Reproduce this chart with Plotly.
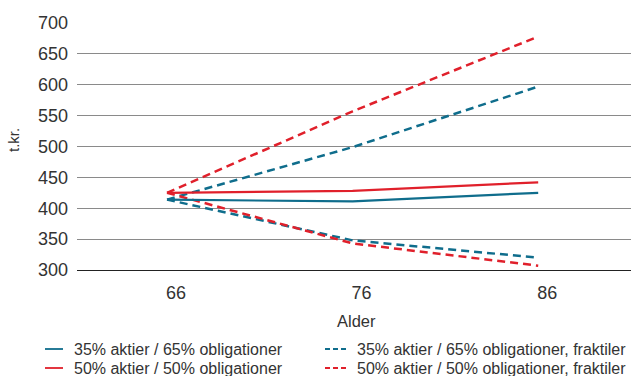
import plotly.graph_objects as go

ages = ["66", "76", "86"]
y_35_65 = [414, 411, 425]
y_50_50 = [425, 428, 442]
y_35_65_upper = [414, 499, 597]
y_35_65_lower = [414, 348, 320]
y_50_50_upper = [425, 557, 678]
y_50_50_lower = [425, 343, 307]
yticks = [300, 350, 400, 450, 500, 550, 600, 650, 700]

BLUE = "#0f6d8c"
RED = "#e0202b"
TXT = "#333333"
FONT = "Liberation Sans, Arial, sans-serif"

W, H = 631, 376
L, R, T, B = 77, 0, 23, 106
PW, PH = W - L - R, H - T - B

def px(x):
    return (x - L) / PW

def py(y):
    return (H - B - y) / PH

fig = go.Figure()
series = [
    (y_35_65_upper, BLUE, "8px,5px", 2.5),
    (y_35_65_lower, BLUE, "8px,5px", 2.5),
    (y_50_50_upper, RED, "8px,5px", 2.5),
    (y_50_50_lower, RED, "8px,5px", 2.5),
    (y_35_65, BLUE, "solid", 2.2),
    (y_50_50, RED, "solid", 2.2),
]
for ys, c, d, w in series:
    fig.add_trace(go.Scatter(x=ages, y=ys, mode="lines",
                             line=dict(color=c, dash=d, width=w),
                             showlegend=False, hoverinfo="skip"))

fig.update_layout(
    width=W, height=H,
    margin=dict(l=L, r=R, t=T, b=B),
    paper_bgcolor="white", plot_bgcolor="white",
    font=dict(family=FONT, color=TXT),
    showlegend=False,
)
fig.update_xaxes(type="category", range=[-0.485, 2.5], showgrid=False,
                 showline=True, linecolor="#222222", linewidth=1.2,
                 ticks="", tickfont=dict(size=18, color=TXT),
                 ticklabelshift=9, ticklabelstandoff=6)
fig.update_yaxes(range=[300, 700], tickvals=yticks, showgrid=True,
                 gridcolor="#8a8a8a", gridwidth=1, zeroline=False,
                 showline=False, ticks="", tickfont=dict(size=18, color=TXT),
                 ticklabelstandoff=8)

annots = [
    dict(text="t.kr.", x=px(13), y=py(140), textangle=-90, font=dict(size=15)),
    dict(text="Alder", x=px(356), y=py(321), font=dict(size=16.5)),
]
legend_items = [
    ("35% aktier / 65% obligationer", BLUE, "solid", 45, 63, 72, 349),
    ("50% aktier / 50% obligationer", RED, "solid", 45, 63, 72, 368),
    ("35% aktier / 65% obligationer, fraktiler", BLUE, "5px,3px", 325, 347, 355, 349),
    ("50% aktier / 50% obligationer, fraktiler", RED, "5px,3px", 325, 347, 355, 368),
]
shapes = []
for text, c, d, x0, x1, tx, yy in legend_items:
    shapes.append(dict(type="line", xref="paper", yref="paper",
                       x0=px(x0), x1=px(x1), y0=py(yy), y1=py(yy),
                       line=dict(color=c, width=1.8, dash=d)))
    annots.append(dict(text=text, x=px(tx), y=py(yy), xanchor="left",
                       font=dict(size=16)))
for a in annots:
    a.update(xref="paper", yref="paper", showarrow=False)
    a.setdefault("xanchor", "center")
    a.setdefault("yanchor", "middle")
    fig.add_annotation(**a)
fig.update_layout(shapes=shapes)

fig.write_html("out.html")
